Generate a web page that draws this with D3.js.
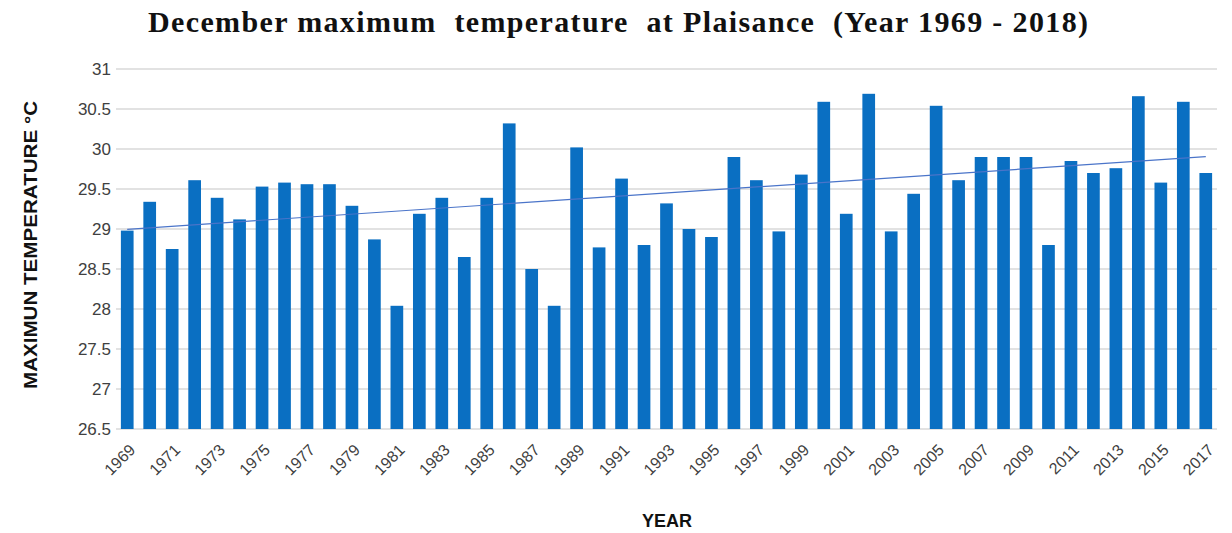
<!DOCTYPE html>
<html>
<head>
<meta charset="utf-8">
<script src="https://cdn.jsdelivr.net/npm/d3@7"></script>
<style>
  html, body { margin: 0; padding: 0; background: #fff; }
  svg { display: block; }
</style>
</head>
<body>
<svg id="chart" width="1232" height="533"></svg>
<script>
const years = [1969,1970,1971,1972,1973,1974,1975,1976,1977,1978,1979,1980,1981,1982,1983,1984,1985,1986,1987,1988,1989,1990,1991,1992,1993,1994,1995,1996,1997,1998,1999,2000,2001,2002,2003,2004,2005,2006,2007,2008,2009,2010,2011,2012,2013,2014,2015,2016,2017];
const maxTemp = [28.98,29.34,28.75,29.61,29.39,29.12,29.53,29.58,29.56,29.56,29.29,28.87,28.04,29.19,29.39,28.65,29.39,30.32,28.50,28.04,30.02,28.77,29.63,28.80,29.32,29.00,28.90,29.90,29.61,28.97,29.68,30.59,29.19,30.69,28.97,29.44,30.54,29.61,29.90,29.90,29.90,28.80,29.85,29.70,29.76,30.66,29.58,30.59,29.70];
const yTicks = [26.5,27,27.5,28,28.5,29,29.5,30,30.5,31];
const xTickYears = years.filter((y, i) => i % 2 === 0);

const svg = d3.select("#chart");
const plotL = 116, plotR = 1217, plotT = 69, plotB = 429;

const x = d3.scaleBand().domain(years).range([plotL, plotR]).paddingInner(0.435).paddingOuter(0.2175);
const y = d3.scaleLinear().domain([26.5, 31]).range([plotB, plotT]);

// gridlines
svg.append("g").selectAll("line").data(yTicks).join("line")
  .attr("x1", plotL).attr("x2", plotR)
  .attr("y1", d => y(d)).attr("y2", d => y(d))
  .attr("stroke", "#d9d9d9").attr("stroke-width", 1.3);

// y axis labels
const yAxis = d3.axisLeft(y).tickValues(yTicks).tickSize(0).tickPadding(0).tickFormat(d3.format("~g"));
const gy = svg.append("g").attr("transform", `translate(${plotL - 5},0)`).call(yAxis);
gy.select(".domain").remove();
gy.selectAll("text").attr("font-family", "'Liberation Sans', Arial, sans-serif").attr("font-size", 17).attr("fill", "#404040");

// bars
svg.append("g").selectAll("rect").data(years).join("rect")
  .attr("x", d => x(d))
  .attr("width", x.bandwidth())
  .attr("y", (d, i) => y(maxTemp[i]))
  .attr("height", (d, i) => y(26.5) - y(maxTemp[i]))
  .attr("fill", "#0a6fc2");

// linear trendline (least squares)
const n = years.length;
const idx = d3.range(n);
const mx = d3.mean(idx), my = d3.mean(maxTemp);
const slope = d3.sum(idx, i => (i - mx) * (maxTemp[i] - my)) / d3.sum(idx, i => (i - mx) * (i - mx));
const icpt = my - slope * mx;
const cx = i => x(years[i]) + x.bandwidth() / 2;
svg.append("line")
  .attr("x1", cx(0)).attr("y1", y(icpt))
  .attr("x2", cx(n - 1)).attr("y2", y(icpt + slope * (n - 1)))
  .attr("stroke", "#4a74c9").attr("stroke-width", 1.2);

// x axis
const xAxis = d3.axisBottom(x).tickValues(xTickYears).tickSize(0).tickPadding(0);
const gx = svg.append("g").attr("transform", `translate(0,${plotB})`).call(xAxis);
gx.select(".domain").remove();
gx.selectAll("text")
  .attr("font-family", "'Liberation Sans', Arial, sans-serif").attr("font-size", 16).attr("fill", "#404040")
  .attr("text-anchor", "end").attr("dy", null).attr("y", 0)
  .attr("transform", "translate(9,22) rotate(-45)");

// title
svg.append("text")
  .attr("x", 618).attr("y", 32)
  .attr("text-anchor", "middle")
  .attr("font-family", "'Liberation Serif', 'Times New Roman', serif")
  .attr("font-weight", "bold").attr("font-size", 30)
  .attr("fill", "#111")
  .attr("textLength", 940).attr("lengthAdjust", "spacing")
  .style("white-space", "pre")
  .text("December maximum  temperature  at Plaisance  (Year 1969 - 2018)");

// axis titles
svg.append("text")
  .attr("x", 667).attr("y", 527)
  .attr("text-anchor", "middle")
  .attr("font-family", "'Liberation Sans', Arial, sans-serif")
  .attr("font-weight", "bold").attr("font-size", 18).attr("fill", "#111")
  .text("YEAR");

svg.append("text")
  .attr("transform", "translate(37,245) rotate(-90)")
  .attr("text-anchor", "middle")
  .attr("font-family", "'Liberation Sans', Arial, sans-serif")
  .attr("font-weight", "bold").attr("font-size", 18).attr("fill", "#111")
  .attr("textLength", 288).attr("lengthAdjust", "spacingAndGlyphs")
  .text("MAXIMUN TEMPERATURE °C");
</script>
</body>
</html>
